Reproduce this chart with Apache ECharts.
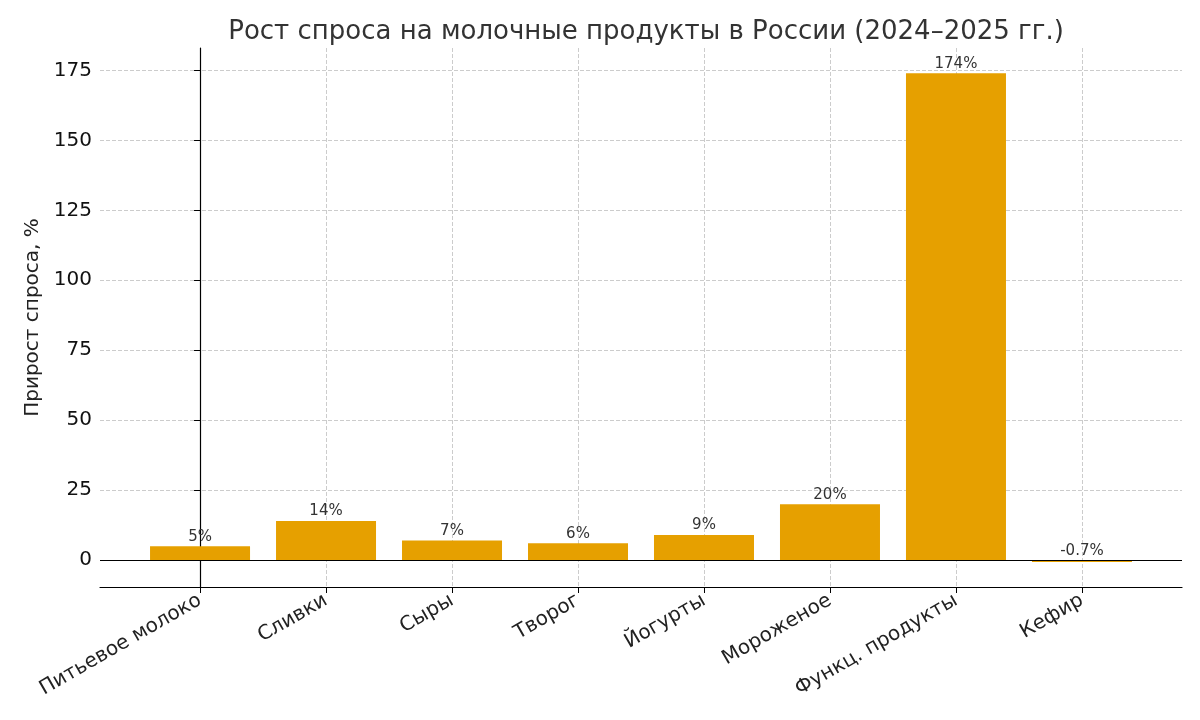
<!DOCTYPE html>
<html><head><meta charset="utf-8">
<script src="https://cdn.jsdelivr.net/npm/echarts@6/dist/echarts.min.js"></script>
<style>html,body{margin:0;padding:0;background:#fff}#c{width:1200px;height:720px}</style>
</head><body><div id="c"></div>
<script>
const categories = ['Питьевое молоко','Сливки','Сыры','Творог','Йогурты','Мороженое','Функц. продукты','Кефир'];
const values = [5, 14, 7, 6, 9, 20, 174, -0.7];
const labels = ['5%','14%','7%','6%','9%','20%','174%','-0.7%'];
const yTicks = [0,25,50,75,100,125,150,175];
const xTicks = [0,1,2,3,4,5,6,7];
const font = 'DejaVu Sans';
const chart = echarts.init(document.getElementById('c'));
chart.setOption({
  animation:false,
  textStyle:{fontFamily:font},
  title:{text:'Рост спроса на молочные продукты в России (2024–2025 гг.)',left:641,textAlign:'center',top:14,
    textStyle:{fontFamily:font,fontSize:26,fontWeight:'normal',color:'#333'}},
  grid:{left:100,right:18,top:48,bottom:133},
  xAxis:{type:'value',min:-0.794,max:7.794,
    axisLine:{onZero:false,lineStyle:{color:'#000',width:1.2}},
    axisTick:{customValues:xTicks,length:6,lineStyle:{color:'#000'}},
    axisLabel:{customValues:xTicks,rotate:30,fontSize:20,color:'#222',margin:12,fontFamily:font,
      formatter:v=>categories[Math.round(v)]},
    splitLine:{show:true,lineStyle:{type:'dashed',color:'#ccc'}}},
  yAxis:{type:'value',min:-9.6,max:183,
    name:'Прирост спроса, %',nameLocation:'middle',nameGap:56,
    nameTextStyle:{fontSize:20,color:'#222',fontFamily:font},
    axisLine:{show:true,lineStyle:{color:'#000',width:1.2}},
    axisTick:{show:true,customValues:yTicks,length:6,lineStyle:{color:'#000'}},
    axisLabel:{customValues:yTicks,fontSize:20,color:'#111',fontFamily:font},
    splitLine:{show:true,lineStyle:{type:'dashed',color:'#ccc'}}},
  series:[{type:'bar',data:values.map((v,i)=>[i,v]),barWidth:100,itemStyle:{color:'#E6A000'},
    label:{show:true,position:'top',fontSize:15,color:'#333',distance:2,
      formatter:p=>labels[p.dataIndex]},
    markLine:{symbol:'none',silent:true,label:{show:false},
      lineStyle:{color:'#000',type:'solid',width:1.2},data:[{yAxis:0}]}}]
});
</script></body></html>
